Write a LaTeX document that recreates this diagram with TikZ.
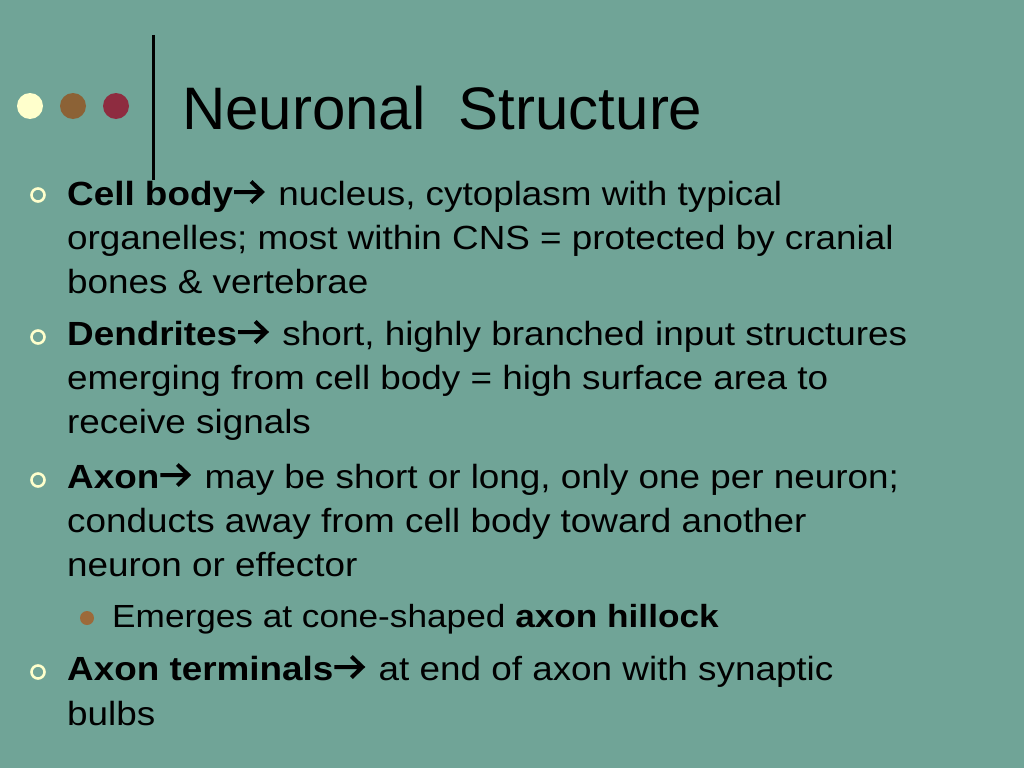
\documentclass[tikz,border=0pt]{standalone}
\usepackage{fontspec}
\setmainfont{Liberation Sans}
\newfontfamily\bodyfont[FakeStretch=1.1]{Liberation Sans}
\definecolor{bgcol}{HTML}{70A497}
\definecolor{cream}{HTML}{FFFFCC}
\definecolor{dotbrown}{HTML}{8C6236}
\definecolor{dotred}{HTML}{8E2C40}
\definecolor{subbrown}{HTML}{9C6A3A}
\newcommand{\rarr}{\tikz[x=1pt,y=1pt,baseline=0pt]{\useasboundingbox (0,0) rectangle (35,1);
  \draw[line width=4pt,line join=miter] (1,13) -- (29,13) (18,2.5) -- (29,13) -- (18,23.5);}}
\begin{document}
\begin{tikzpicture}[x=1pt,y=-1pt,
  line/.style={anchor=base west,inner sep=0pt,font=\bodyfont\fontsize{33.5}{40}\selectfont},
  subline/.style={anchor=base west,inner sep=0pt,font=\bodyfont\fontsize{32}{38}\selectfont},
  ring/.style={circle,draw=cream,line width=2.6pt,minimum size=13pt,inner sep=0pt},
  ]
\useasboundingbox (0,0) rectangle (1024,768);
\fill[bgcol] (0,0) rectangle (1024,768);
% title dots and rule
\fill[cream] (30,106) circle (13);
\fill[dotbrown] (73,106) circle (13);
\fill[dotred] (116,106) circle (13);
\draw[line width=3pt] (153,35) -- (153,180);
\node[anchor=base west,inner sep=0pt,font=\fontsize{60}{70}\selectfont] (title) at (182,129) {Neuronal\ \ Structure};
% bullets
\node[ring] (b1) at (38,195) {};
\node[line] (l1a) at (67,205) {\textbf{Cell body}\rarr\ nucleus, cytoplasm with typical};
\node[line] (l1b) at (67,249) {organelles; most within CNS = protected by cranial};
\node[line] (l1c) at (67,293) {bones \& vertebrae};
\node[ring] (b2) at (38,337) {};
\node[line] (l2a) at (67,345) {\textbf{Dendrites}\rarr\ short, highly branched input structures};
\node[line] (l2b) at (67,389) {emerging from cell body = high surface area to};
\node[line] (l2c) at (67,433) {receive signals};
\node[ring] (b3) at (38,480) {};
\node[line] (l3a) at (67,488) {\textbf{Axon}\rarr\ may be short or long, only one per neuron;};
\node[line] (l3b) at (67,532) {conducts away from cell body toward another};
\node[line] (l3c) at (67,576) {neuron or effector};
\fill[subbrown] (87,618) circle (7);
\node[subline] (s1) at (112,627) {Emerges at cone-shaped \textbf{axon hillock}};
\node[ring] (b4) at (38,672) {};
\node[line] (l4a) at (67,680) {\textbf{Axon terminals}\rarr\ at end of axon with synaptic};
\node[line] (l4b) at (67,725) {bulbs};
\end{tikzpicture}
\end{document}
